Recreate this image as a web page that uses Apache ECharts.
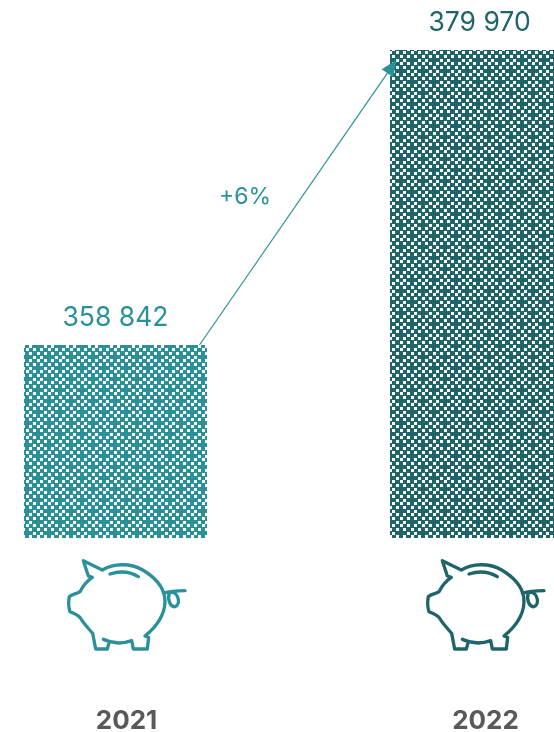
<!DOCTYPE html>
<html><head><meta charset="utf-8">
<style>html,body{margin:0;padding:0;background:#fff}#c{width:554px;height:732px}</style>
<script src="https://cdn.jsdelivr.net/npm/echarts@6/dist/echarts.min.js"></script>
</head><body><div id="c"></div>
<script>
const categories = ['2021', '2022'];
const values = [358842, 379970];
const valueLabels = ['358 842', '379 970'];
const changeLabel = '+6%';
const colors = ['#2a9199', '#1e6469'];
const PIG = 'M100 32L157 60C190 40 240 38 278 60C315 82 338 108 344 140C350 185 325 225 285 258L296 262L292 297L250 297L245 272C215 283 190 282 160 268L178 275L172 297L137 297L128 250C115 235 100 220 92 205C85 195 75 192 60 185C55 170 55 155 58 140C65 132 80 132 90 125C100 105 112 92 127 82L115 78ZM340 130C365 122 385 122 405 122M358 128C352 148 360 172 375 170C392 166 388 125 362 127M180 72C210 62 240 65 265 80';

function pattern(color) {
  const p = 22, n = 6, c = document.createElement('canvas');
  const starts = [0, 4, 7, 11, 15, 18];
  c.width = c.height = p;
  const x = c.getContext('2d');
  x.fillStyle = color; x.fillRect(0, 0, p, p);
  x.fillStyle = '#fff';
  const cross = (i, j) => (Math.abs(i - 1) + Math.abs(j - 1) <= 1) || (Math.abs(i - 4) + Math.abs(j - 4) <= 1);
  for (let j = 0; j < n; j++) for (let i = 0; i < n; i++) {
    if ((i + j) % 2 === 0 && !cross(i, j)) x.fillRect(starts[i], starts[j], 3, 3);
  }
  return { image: c, repeat: 'repeat' };
}

const chart = echarts.init(document.getElementById('c'));
chart.setOption({
  animation: false,
  grid: [
    { left: -67.5, width: 732, top: 50, height: 488, outerBoundsMode: 'none' },
    { left: -53, width: 718, top: 50, height: 655, outerBoundsMode: 'none' }
  ],
  xAxis: [
    { type: 'category', data: categories, gridIndex: 0, show: false },
    { type: 'category', data: categories, gridIndex: 1,
      axisLine: { show: false }, axisTick: { show: false },
      axisLabel: { margin: 3, fontFamily: 'Inter', fontSize: 26, fontWeight: 700, color: '#595959' } }
  ],
  yAxis: [
    { type: 'value', gridIndex: 0, min: 345020, max: 379970, show: false },
    { type: 'value', gridIndex: 1, min: 0, max: 1, show: false }
  ],
  series: [
    { type: 'bar', barWidth: 183, xAxisIndex: 0, yAxisIndex: 0,
      data: values.map((v, i) => ({ value: v, itemStyle: { color: pattern(colors[i]) },
        label: { show: true, position: 'top', distance: 13, offset: [i ? -2 : 0, 0], formatter: valueLabels[i],
          fontFamily: 'Inter', fontSize: 26.5, color: colors[i] } })) },
    { type: 'custom', xAxisIndex: 0, yAxisIndex: 0, clip: false, z: 5, data: [0],
      renderItem(params, api) {
        const a = api.coord([0, values[0]]), b = api.coord([1, values[1]]);
        const x1 = a[0] + 84, y1 = a[1], x2 = b[0] - 85, y2 = b[1] + 10;
        const ang = Math.atan2(y2 - y1, x2 - x1);
        const L = 16, W = 7;
        const bx = x2 - L * Math.cos(ang), by = y2 - L * Math.sin(ang);
        const nx = -Math.sin(ang) * W, ny = Math.cos(ang) * W;
        return { type: 'group', children: [
          { type: 'line', shape: { x1, y1, x2: bx, y2: by }, style: { stroke: colors[0], lineWidth: 1.2 } },
          { type: 'polygon', shape: { points: [[x2, y2], [bx + nx, by + ny], [bx - nx, by - ny]] }, style: { fill: colors[0] } },
          { type: 'text', x: 245, y: 197, style: { text: changeLabel, fill: colors[0], fontFamily: 'Inter', fontSize: 23, align: 'center', verticalAlign: 'middle' } }
        ] };
      } },
    { type: 'custom', xAxisIndex: 1, yAxisIndex: 1, clip: false, data: [0, 1],
      renderItem(params, api) {
        const i = params.dataIndex;
        const c = api.coord([i, 0]);
        return { type: 'group', x: c[0] - 76.5, y: 550, scaleX: 1 / 3, scaleY: 1 / 3, children: [
          { type: 'path', shape: { pathData: PIG }, style: { fill: 'none', stroke: colors[i], lineWidth: 10, lineJoin: 'round', lineCap: 'round' } }
        ] };
      } }
  ]
});
</script></body></html>
